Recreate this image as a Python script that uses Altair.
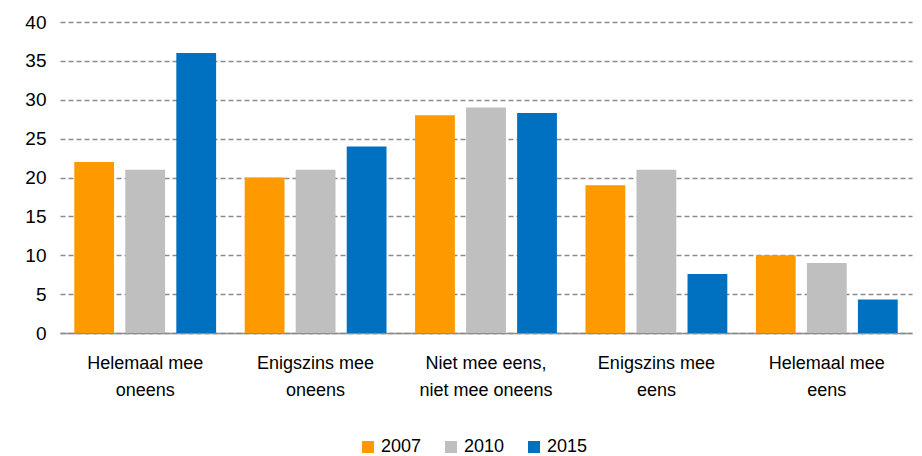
import altair as alt
import pandas as pd

categories = ["Helemaal mee\noneens", "Enigszins mee\noneens", "Niet mee eens,\nniet mee oneens",
              "Enigszins mee\neens", "Helemaal mee\neens"]
years = ["2007", "2010", "2015"]
v2007 = [22, 20, 28, 19, 10]
v2010 = [21, 21, 29, 21, 9]
v2015 = [36, 24, 28.3, 7.6, 4.3]
colors = ["#FF9900", "#BFBFBF", "#0070C0"]

rows = []
for yr, vals in zip(years, [v2007, v2010, v2015]):
    for c, v in zip(categories, vals):
        rows.append({"cat": c, "year": yr, "value": v})
df = pd.DataFrame(rows)

FONT = "Liberation Sans"

chart = alt.Chart(df).mark_bar().encode(
    x=alt.X("cat:N", sort=categories, title=None,
            scale=alt.Scale(paddingInner=0, paddingOuter=0),
            axis=alt.Axis(labelAngle=0, labelExpr="split(datum.value, '\\n')",
                          labelFontSize=18, labelColor="#000000", labelFont=FONT,
                          labelPadding=21, labelLineHeight=27, ticks=False,
                          domainColor="#8C8C8C", domainWidth=1.5, grid=False,
                          labelBaseline="top")),
    xOffset=alt.XOffset("year:N", sort=years,
                        scale=alt.Scale(paddingInner=0.22, paddingOuter=0.28)),
    y=alt.Y("value:Q", title=None,
            scale=alt.Scale(domain=[0, 40], nice=False),
            axis=alt.Axis(values=list(range(0, 45, 5)), labelFontSize=19, labelFont=FONT,
                          labelColor="#000000", labelPadding=14, ticks=False, domain=False,
                          gridDash=[5, 3], gridColor="#8C8C8C", gridWidth=1.3)),
    color=alt.Color("year:N", sort=years,
                    scale=alt.Scale(domain=years, range=colors),
                    legend=alt.Legend(title=None, orient="none", direction="horizontal",
                                      legendX=299, legendY=416, symbolType="square",
                                      symbolSize=144, symbolStrokeWidth=0,
                                      labelFontSize=18, labelFont=FONT, labelColor="#000000",
                                      columnPadding=20, labelOffset=4)),
).properties(
    width=852, height=311,
    autosize=alt.AutoSizeParams(type="none"),
    padding={"left": 52, "top": 14, "right": 2, "bottom": 122},
).configure_view(stroke=None)

chart.save("out.html", embed_options={"renderer": "svg", "actions": False})
